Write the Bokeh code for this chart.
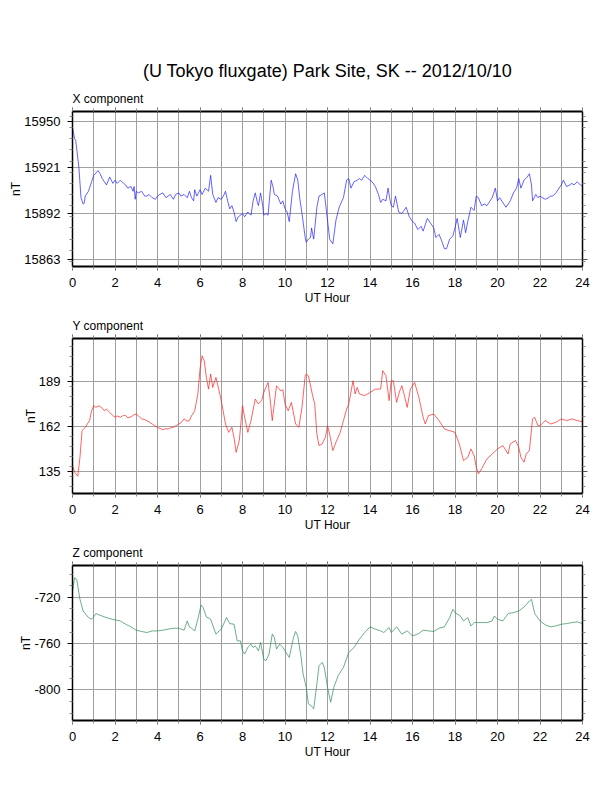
from bokeh.plotting import figure
from bokeh.models import LinearAxis, FixedTicker, Range1d, Title, CustomLabelingPolicy
from bokeh.layouts import column
from bokeh.embed import file_html
from bokeh.resources import INLINE

FONT = "Liberation Sans"

main_title = "(U Tokyo fluxgate) Park Site, SK -- 2012/10/10"
x_label = "UT Hour"
y_label = "nT"
panel_names = ["X component", "Y component", "Z component"]
hour_major = list(range(0, 25, 2))
hour_minor = list(range(0, 25))

# ---------------- X component ----------------
x_hours = [0, 0.1, 0.15, 0.3, 0.4, 0.5, 0.55, 0.6, 0.75, 0.9, 1.0, 1.2, 1.3, 1.4, 1.5, 1.6, 1.75, 1.9,
           2.0, 2.1, 2.25, 2.4, 2.5, 2.6, 2.75, 2.85, 2.9, 2.95, 3.0, 3.1, 3.25, 3.4, 3.5, 3.6, 3.75, 3.9,
           4.0, 4.1, 4.25, 4.4, 4.5, 4.6, 4.75, 4.85, 5.0, 5.1, 5.25, 5.4, 5.5, 5.6, 5.7, 5.75, 5.85,
           6.0, 6.1, 6.25, 6.4, 6.5, 6.6, 6.75, 6.85, 7.0, 7.1, 7.2, 7.3, 7.4, 7.5, 7.6, 7.7, 7.8,
           8.0, 8.1, 8.25, 8.4, 8.5, 8.6, 8.7, 8.75, 8.85, 8.95, 9.0, 9.1, 9.2, 9.35, 9.45, 9.5, 9.65,
           9.8, 9.9, 10.0, 10.1, 10.2, 10.35, 10.5, 10.6, 10.7, 10.8, 10.95, 11.0, 11.1, 11.2, 11.25,
           11.35, 11.5, 11.6, 11.75, 11.85, 12.0, 12.1, 12.25, 12.4, 12.55, 12.75, 12.9, 13.0, 13.1,
           13.25, 13.4, 13.5, 13.6, 13.75, 13.9, 14.0, 14.1, 14.25, 14.4, 14.5, 14.6, 14.75, 14.85,
           14.95, 15.0, 15.1, 15.2, 15.35, 15.5, 15.6, 15.7, 15.85, 16.0, 16.1, 16.25, 16.4, 16.5,
           16.6, 16.7, 16.85, 17.0, 17.1, 17.25, 17.4, 17.5, 17.6, 17.75, 17.9, 18.0, 18.1, 18.25,
           18.4, 18.5, 18.6, 18.75, 18.9, 19.0, 19.1, 19.25, 19.4, 19.5, 19.6, 19.75, 19.9, 20.0,
           20.1, 20.25, 20.4, 20.5, 20.6, 20.75, 20.9, 21.0, 21.1, 21.25, 21.4, 21.5, 21.6, 21.65,
           21.8, 21.9, 22.0, 22.1, 22.25, 22.4, 22.5, 22.6, 22.75, 22.9, 23.0, 23.1, 23.25, 23.4,
           23.5, 23.6, 23.75, 23.9, 24.0]
x_values = [15946, 15939, 15938, 15921, 15902, 15898, 15898.5, 15903, 15906, 15912, 15916, 15919, 15917,
            15914, 15912, 15910, 15915, 15911, 15913, 15911, 15913, 15911, 15910, 15908, 15909, 15906,
            15909, 15901, 15906, 15905, 15906, 15903, 15903, 15904, 15902, 15901, 15903, 15904, 15905,
            15902, 15903, 15904, 15901, 15904, 15905, 15903, 15904, 15902, 15906, 15902, 15900, 15907,
            15903, 15907, 15904, 15908, 15906, 15916, 15904, 15899, 15902, 15901, 15903, 15906, 15900,
            15895, 15897, 15893, 15887, 15890, 15892, 15890, 15893, 15891, 15900, 15905, 15899, 15897,
            15905, 15897, 15891, 15892, 15891, 15913, 15908, 15904, 15903, 15898, 15900, 15895, 15893,
            15887, 15906, 15917, 15913, 15901, 15892, 15877, 15874, 15876, 15877, 15883, 15876, 15896,
            15903, 15904, 15905, 15888, 15876, 15873, 15888, 15896, 15902, 15913, 15914, 15908, 15912,
            15913, 15914, 15913, 15916, 15914, 15913, 15912, 15909, 15904, 15899, 15901, 15900, 15908,
            15900, 15897, 15896, 15903, 15893, 15892, 15894, 15896, 15890, 15887, 15886, 15882, 15884,
            15881, 15885, 15889, 15886, 15883, 15877, 15879, 15874, 15870, 15870, 15876, 15878, 15883,
            15889, 15877, 15888, 15880, 15887, 15896, 15894, 15903, 15902, 15897, 15898, 15897, 15899,
            15902, 15908, 15900, 15902, 15899, 15896, 15898, 15900, 15905, 15908, 15914, 15908, 15913,
            15915, 15917, 15910, 15900, 15904, 15902, 15903, 15902, 15901, 15902, 15903, 15903, 15905,
            15908, 15910, 15913, 15909, 15910, 15911, 15910, 15912, 15910, 15909]
x_major = [15863, 15892, 15921, 15950]
x_minor = [15862, 15869, 15876, 15883, 15890, 15897, 15904, 15911, 15918, 15925, 15932, 15939, 15946, 15953]
x_limits = (15858.8, 15956.1)

# ---------------- Y component ----------------
y_hours = [0, 0.1, 0.25, 0.35, 0.45, 0.6, 0.8, 0.9, 1.0, 1.1, 1.25, 1.4, 1.5, 1.6, 1.75, 1.9, 2.0, 2.1,
           2.25, 2.4, 2.5, 2.6, 2.75, 2.9, 3.0, 3.1, 3.25, 3.4, 3.5, 3.6, 3.75, 3.9, 4.0, 4.1, 4.25,
           4.4, 4.5, 4.6, 4.75, 4.9, 5.0, 5.1, 5.25, 5.4, 5.5, 5.6, 5.75, 5.9, 6.0, 6.1, 6.2, 6.3,
           6.4, 6.5, 6.6, 6.75, 6.9, 7.0, 7.2, 7.35, 7.5, 7.6, 7.7, 7.85, 8.0, 8.1, 8.25, 8.4, 8.6,
           8.75, 8.9, 9.0, 9.2, 9.3, 9.4, 9.6, 9.8, 9.9, 10.0, 10.15, 10.3, 10.5, 10.65, 10.8, 10.95,
           11.0, 11.1, 11.3, 11.4, 11.5, 11.6, 11.75, 11.9, 12.0, 12.1, 12.25, 12.4, 12.6, 12.75,
           12.9, 13.0, 13.2, 13.3, 13.4, 13.5, 13.75, 14.0, 14.25, 14.5, 14.6, 14.75, 14.9, 15.0,
           15.1, 15.25, 15.4, 15.5, 15.6, 15.75, 15.9, 16.1, 16.3, 16.5, 16.6, 16.75, 17.0, 17.25,
           17.5, 17.75, 18.0, 18.2, 18.4, 18.6, 18.75, 18.9, 19.0, 19.1, 19.25, 19.5, 19.75, 20.0,
           20.25, 20.5, 20.6, 20.85, 21.0, 21.1, 21.25, 21.35, 21.5, 21.65, 21.75, 21.9, 22.0,
           22.25, 22.5, 22.75, 23.0, 23.25, 23.5, 23.75, 24.0]
y_values = [138.8, 134.8, 132.4, 143.7, 159.6, 161.6, 165.6, 171.5, 174.5, 173.5, 174.5, 173.0, 171.5,
            172.5, 170.5, 168.6, 167.6, 168.4, 167.6, 168.8, 168.6, 167.2, 167.8, 169.2, 169.5, 168.5,
            166.6, 166.2, 165.6, 164.8, 163.6, 162.4, 161.6, 161.0, 160.2, 160.8, 160.6, 161.2, 161.6,
            162.8, 163.6, 164.2, 166.6, 165.2, 165.6, 168.4, 171.5, 181.5, 196.3, 204.3, 201.3, 191.4,
            184.4, 193.4, 185.4, 191.4, 183.4, 177.5, 163.6, 158.6, 161.6, 155.6, 146.7, 153.7, 174.5,
            167.6, 158.6, 165.6, 178.5, 175.5, 177.5, 182.4, 188.4, 178.5, 165.6, 186.4, 183.4, 184.0,
            175.5, 171.5, 176.5, 163.6, 161.6, 173.5, 192.4, 193.4, 192.4, 180.5, 175.5, 157.6, 150.7,
            151.7, 155.6, 162.6, 157.6, 147.7, 152.7, 158.6, 165.6, 172.5, 175.5, 189.4, 181.5, 185.4,
            181.5, 180.5, 182.4, 184.4, 184.4, 195.4, 192.4, 177.5, 189.4, 189.4, 176.5, 183.4, 186.4,
            181.5, 173.5, 184.4, 188.4, 179.5, 167.6, 163.6, 168.6, 169.5, 165.6, 160.6, 159.6, 158.6,
            151.7, 141.7, 143.7, 148.7, 144.7, 137.8, 133.8, 136.8, 142.7, 145.7, 148.7, 150.7, 145.7,
            151.7, 153.7, 149.7, 143.7, 140.8, 145.7, 147.7, 166.6, 167.6, 162.6, 162.6, 165.6, 163.6,
            164.6, 166.6, 165.6, 166.6, 165.6, 165.0]
y_major = [135, 162, 189]
y_minor = [126, 132, 138, 144, 150, 156, 168, 174, 180, 186, 192, 198, 204, 210]
y_limits = (122.1, 214.6)

# ---------------- Z component ----------------
z_hours = [0, 0.1, 0.2, 0.35, 0.5, 0.75, 0.9, 1.0, 1.1, 1.25, 1.5, 1.75, 2.0, 2.25, 2.5, 2.75, 3.0,
           3.25, 3.5, 3.75, 4.0, 4.25, 4.5, 4.75, 5.0, 5.25, 5.4, 5.5, 5.6, 5.75, 5.9, 6.05, 6.15,
           6.3, 6.5, 6.75, 6.9, 7.0, 7.25, 7.4, 7.6, 7.75, 7.9, 8.0, 8.1, 8.25, 8.4, 8.5, 8.6, 8.75,
           8.85, 9.0, 9.1, 9.25, 9.4, 9.5, 9.6, 9.75, 9.9, 10.0, 10.2, 10.4, 10.5, 10.6, 10.75,
           10.85, 11.0, 11.1, 11.25, 11.35, 11.5, 11.6, 11.75, 11.85, 12.0, 12.15, 12.3, 12.5,
           12.75, 13.0, 13.25, 13.5, 13.75, 14.0, 14.25, 14.5, 14.65, 14.9, 15.0, 15.25, 15.5,
           15.75, 16.0, 16.25, 16.5, 16.75, 17.0, 17.25, 17.5, 17.75, 17.9, 18.0, 18.25, 18.4,
           18.6, 18.75, 18.9, 19.0, 19.25, 19.5, 19.75, 19.85, 20.0, 20.25, 20.5, 20.75, 21.0,
           21.25, 21.5, 21.6, 21.75, 22.0, 22.25, 22.5, 22.75, 23.0, 23.25, 23.5, 23.75, 24.0]
z_values = [-714.6, -703.1, -704.5, -721.7, -731.8, -737.5, -738.9, -736.9, -734.0, -735.2, -736.9,
            -738.4, -739.5, -740.4, -743.2, -745.5, -748.4, -749.5, -750.4, -749.0, -749.0, -748.4,
            -747.5, -746.7, -746.7, -748.4, -740.4, -745.5, -746.7, -749.0, -738.9, -726.6, -728.9,
            -736.9, -738.9, -751.8, -749.0, -747.5, -737.5, -742.7, -743.2, -757.6, -757.6, -766.2,
            -769.0, -763.3, -760.4, -763.3, -761.9, -766.2, -759.0, -773.3, -774.8, -769.0, -751.8,
            -754.7, -764.7, -760.4, -763.3, -766.2, -771.9, -754.7, -749.5, -753.3, -771.0, -786.0,
            -797.7, -812.0, -814.0, -816.3, -794.8, -779.0, -776.2, -780.5, -797.7, -810.6, -797.7,
            -787.7, -780.5, -767.6, -763.3, -756.1, -750.4, -745.5, -747.5, -749.0, -750.4, -746.1,
            -750.4, -745.5, -751.8, -749.0, -753.3, -751.8, -748.4, -749.0, -749.5, -746.7, -745.5,
            -737.5, -730.3, -733.2, -736.1, -740.4, -737.5, -744.7, -741.8, -741.8, -741.8, -741.8,
            -740.4, -736.1, -738.9, -740.4, -734.0, -733.2, -731.8, -728.3, -723.2, -721.7, -734.0,
            -740.4, -743.8, -745.5, -744.7, -743.2, -742.7, -741.8, -741.2, -742.7]
z_major = [-800, -760, -720]
z_minor = [-820, -810, -790, -780, -770, -750, -740, -730, -710, -700]
z_limits = (-826.4, -692.5)


def style_axis(ax, line_w):
    ax.axis_line_color = "black"
    ax.axis_line_width = line_w
    ax.major_tick_line_color = "#555555"
    ax.minor_tick_line_color = "#888888"
    ax.major_tick_in = 0
    ax.minor_tick_in = 0
    ax.major_label_text_font = FONT
    ax.major_label_text_font_size = "13px"
    ax.major_label_text_color = "black"
    ax.axis_label_text_font = FONT
    ax.axis_label_text_font_size = "12px"
    ax.axis_label_text_font_style = "normal"
    ax.axis_label_text_color = "black"


def unlabeled(ax):
    # a frame side with ticks only: no tick labels are drawn at all
    ax.major_label_policy = CustomLabelingPolicy(code="return []")
    ax.major_label_text_font_size = "0px"
    ax.major_label_standoff = 0


def make_panel(hours, vals, color, limits, major, minor, subtitle, top_border, title=None):
    p = figure(frame_width=510, frame_height=155,
               x_range=Range1d(0, 24), y_range=Range1d(*limits),
               output_backend="svg", toolbar_location=None, title=None,
               min_border_left=72, min_border_right=10,
               min_border_top=top_border, min_border_bottom=45)
    p.outline_line_color = None
    p.background_fill_color = "white"
    p.border_fill_color = "white"

    xt = FixedTicker(ticks=hour_major, minor_ticks=hour_minor)
    yt = FixedTicker(ticks=major, minor_ticks=minor)

    p.xgrid.ticker = FixedTicker(ticks=hour_minor)
    p.ygrid.ticker = FixedTicker(ticks=major)
    for g in (p.xgrid, p.ygrid):
        g.grid_line_color = "#a0a0a0"
        g.grid_line_width = 1

    bx = p.xaxis[0]
    bx.ticker = xt
    style_axis(bx, 2)
    bx.axis_label = x_label
    bx.major_tick_out = 4
    bx.minor_tick_out = 3
    bx.major_label_standoff = 7
    bx.axis_label_standoff = 1

    ly = p.yaxis[0]
    ly.ticker = yt
    style_axis(ly, 1.5)
    ly.axis_label = y_label
    ly.major_tick_out = 5
    ly.minor_tick_out = 3
    ly.major_tick_line_color = "black"
    ly.major_label_standoff = 7
    ly.axis_label_standoff = -2
    ly.major_label_overrides = {v: str(v) for v in major}

    ry = LinearAxis(ticker=yt)
    style_axis(ry, 1.5)
    ry.major_tick_out = 5
    ry.minor_tick_out = 3
    unlabeled(ry)
    p.add_layout(ry, "right")

    tx = LinearAxis(ticker=xt)
    style_axis(tx, 2)
    tx.major_tick_out = 4
    tx.minor_tick_out = 3
    unlabeled(tx)
    p.add_layout(tx, "above")

    p.add_layout(Title(text=subtitle, align="left", text_font=FONT, text_font_size="12px",
                       text_font_style="normal", text_color="black", standoff=4), "above")
    if title is not None:
        p.add_layout(Title(text=title, align="center", text_font=FONT, text_font_size="18px",
                           text_font_style="normal", text_color="black", standoff=13), "above")

    p.line(hours, vals, line_color=color, line_width=0.7)
    return p


p1 = make_panel(x_hours, x_values, "#2020ff", x_limits, x_major, x_minor, panel_names[0], 111, main_title)
p2 = make_panel(y_hours, y_values, "#ff2020", y_limits, y_major, y_minor, panel_names[1], 27)
p3 = make_panel(z_hours, z_values, "#2e8b57", z_limits, z_major, z_minor, panel_names[2], 27)

layout = column(p1, p2, p3, spacing=0)
open("out.html", "w").write(file_html(layout, INLINE))
